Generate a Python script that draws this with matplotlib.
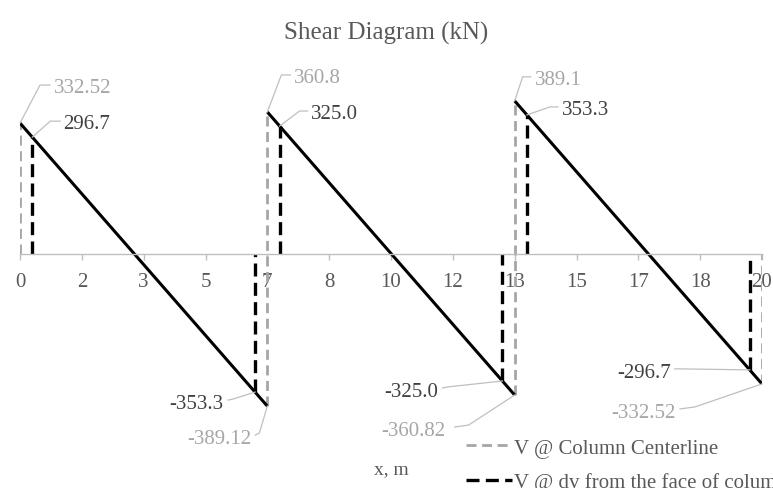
import numpy as np
import matplotlib
matplotlib.use("Agg")
import matplotlib.pyplot as plt
from matplotlib.lines import Line2D
from matplotlib.transforms import IdentityTransform

# ******************************
## Data (x in m, V in kN)
# ******************************
col_x = [0.0, 6.667, 13.333, 20.0]          # column centerlines
v_col_start = [332.52, 360.8, 389.1]        # V at start of each span
v_col_end = [-389.12, -360.82, -332.52]     # V at end of each span
dv_x_start = [0.331, 6.998, 13.664]         # dv from face of column
dv_x_end = [6.336, 13.002, 19.669]
v_dv_start = [296.7, 325.0, 353.3]
v_dv_end = [-353.3, -325.0, -296.7]

tick_pos = np.linspace(0, 20, 13)

GRAY = "#a6a6a6"
DARK = "#404040"
TXT = "#595959"
LEAD = "#bfbfbf"
plt.rcParams['font.family'] = ['Liberation Serif', 'DejaVu Serif']

fig = plt.figure(figsize=(7.73, 4.89), dpi=100)
ax = fig.add_axes([20/773, 58/489, 742/773, 353/489])
ax.set_xlim(0, 20)
ax.set_ylim(-450, 450)

# gray verticals at column centerlines
gx, gy = [], []
gx += [col_x[0], col_x[0], np.nan]; gy += [0, v_col_start[0], np.nan]
for i in range(1, 3):
    gx += [col_x[i], col_x[i], np.nan]
    gy += [v_col_end[i-1], v_col_start[i], np.nan]
gx += [col_x[3], col_x[3]]; gy += [v_col_end[2], 0]

# black verticals at dv
bx, by = [], []
for i in range(3):
    bx += [dv_x_start[i], dv_x_start[i], np.nan, dv_x_end[i], dv_x_end[i], np.nan]
    by += [0, v_dv_start[i], np.nan, v_dv_end[i], 0, np.nan]

g_line, = ax.plot(gx, gy, color=GRAY, lw=2.0, dash_capstyle='butt',
                  label="V @ Column Centerline")
g_line.set_dashes((3.6, 2.0))
b_line, = ax.plot(bx, by, color="black", lw=2.4, dash_capstyle='butt',
                  label="V @ dv from the face of column")
b_line.set_dashes((3.9, 1.9))

# shear line
for i in range(3):
    ax.plot([col_x[i], col_x[i+1]], [v_col_start[i], v_col_end[i]],
            color="black", lw=2.2, solid_capstyle='butt')

# axes styling
for s in ['left', 'right', 'top']:
    ax.spines[s].set_visible(False)
ax.spines['bottom'].set_position(('data', 0))
ax.spines['bottom'].set_color(LEAD)
ax.spines['bottom'].set_linewidth(1.0)
ax.set_yticks([])
ax.set_xticks(tick_pos)
ax.set_xticklabels(["%.0f" % t for t in tick_pos])
ax.tick_params(axis='x', direction='out', length=4, width=1, color=LEAD,
               labelsize=15, labelcolor=TXT, pad=9)

# ******************************
## Data labels with leader lines
# ******************************
# (x, y, text, text colour, [leader offsets px], text offset px, ha)
labels = [
    (col_x[0], v_col_start[0], "%g" % v_col_start[0], GRAY, [(20, 38), (30, 38)], (34, 38), 'left'),
    (dv_x_start[0], v_dv_start[0], "%.1f" % v_dv_start[0], DARK, [(18, 16), (28, 16)], (31, 16), 'left'),
    (col_x[1], v_col_start[1], "%g" % v_col_start[1], GRAY, [(14, 37), (23, 37)], (27, 37), 'left'),
    (dv_x_start[1], v_dv_start[1], "%.1f" % v_dv_start[1], DARK, [(20, 15), (28, 15)], (31, 15), 'left'),
    (col_x[2], v_col_start[2], "%g" % v_col_start[2], GRAY, [(8, 24), (16, 24)], (20, 24), 'left'),
    (dv_x_start[2], v_dv_start[2], "%.1f" % v_dv_start[2], DARK, [(23, 8), (31, 8)], (35, 8), 'left'),
    (dv_x_end[0], v_dv_end[0], "%.1f" % v_dv_end[0], DARK, [(-22, -7), (-27, -8)], (-32, -9), 'right'),
    (col_x[1], v_col_end[0], "%g" % v_col_end[0], GRAY, [(-8, -27), (-12, -29)], (-16, -30), 'right'),
    (dv_x_end[1], v_dv_end[1], "%.1f" % v_dv_end[1], DARK, [(-55, -6), (-60, -7)], (-64, -8), 'right'),
    (col_x[2], v_col_end[1], "%g" % v_col_end[1], GRAY, [(-46, -30), (-60, -32)], (-69, -33), 'right'),
    (dv_x_end[2], v_dv_end[2], "%.1f" % v_dv_end[2], DARK, [(-70, 1), (-75, 1)], (-79, 0), 'right'),
    (col_x[3], v_col_end[2], "%g" % v_col_end[2], GRAY, [(-67, -23), (-82, -25)], (-86, -26), 'right'),
]
ident = IdentityTransform()
for x, y, txt, tc, pts, toff, ha in labels:
    px, py = ax.transData.transform((x, y))
    xs = [px] + [px + dx for dx, dy in pts]
    ys = [py] + [py + dy for dx, dy in pts]
    fig.add_artist(Line2D(xs, ys, color=LEAD, lw=0.9, transform=ident))
    fig.text(px + toff[0], py + toff[1], txt, color=tc, fontsize=15,
             ha=ha, va='center_baseline', transform=ident)

fig.text(386/773, 1 - 33/489, "Shear Diagram (kN)", ha='center', va='center',
         fontsize=18, color=TXT)
fig.text(391/773, 1 - 470/489, "x, m", ha='center', va='center',
         fontsize=14, color=TXT)

fig.legend(handles=[g_line, b_line], loc='upper left',
           bbox_to_anchor=(466/773, 1 - 439/489), frameon=False,
           fontsize=15, handlelength=2.2, handletextpad=0.1,
           labelspacing=0.7, borderpad=0, borderaxespad=0,
           labelcolor=TXT)

fig.savefig("out.png", dpi=100)
